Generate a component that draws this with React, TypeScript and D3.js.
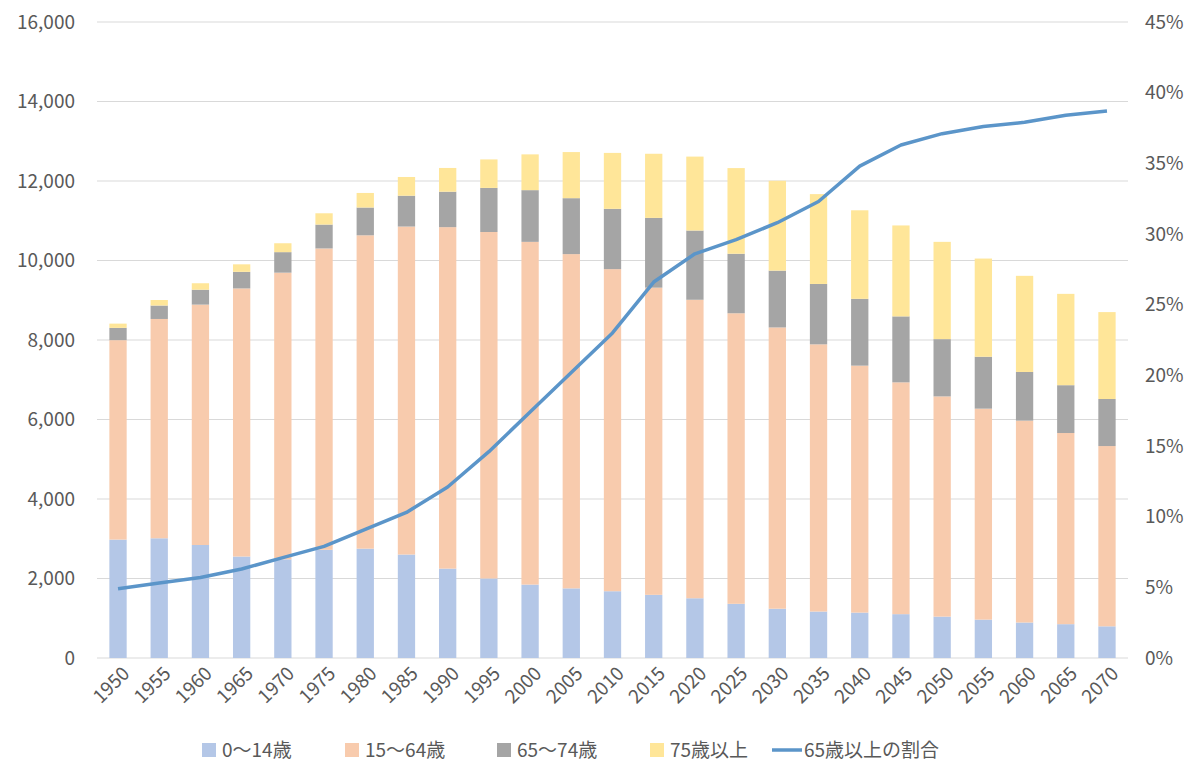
import * as d3 from "d3";

const years = ["1950","1955","1960","1965","1970","1975","1980","1985","1990","1995","2000","2005","2010","2015","2020","2025","2030","2035","2040","2045","2050","2055","2060","2065","2070"];
const age0to14 = [2979,3012,2843,2553,2482,2722,2751,2603,2249,2001,1847,1752,1680,1589,1503,1363,1240,1169,1142,1103,1041,966,893,851,797];
const age15to64 = [5017,5517,6047,6744,7212,7581,7883,8251,8590,8716,8622,8409,8103,7728,7509,7310,7076,6722,6213,5832,5540,5307,5078,4809,4535];
const age65to74 = [309,338,375,418,516,601,699,776,892,1109,1301,1407,1517,1755,1742,1497,1429,1519,1681,1659,1441,1306,1225,1203,1184];
const age75plus = [107,139,163,189,224,284,366,471,597,717,900,1160,1407,1613,1860,2155,2261,2260,2227,2288,2447,2470,2418,2298,2186];
const ratio65 = [4.9,5.3,5.7,6.3,7.1,7.9,9.1,10.3,12.1,14.6,17.4,20.2,23.0,26.6,28.6,29.6,30.8,32.3,34.8,36.3,37.1,37.6,37.9,38.4,38.7];

const seriesNames = ["0～14歳","15～64歳","65～74歳","75歳以上"];
const seriesColors = ["#b4c7e7","#f8cbad","#a5a5a5","#ffe699"];
const lineName = "65歳以上の割合";
const lineColor = "#5b95c9";

const leftTicks = [0,2000,4000,6000,8000,10000,12000,14000,16000];
const rightTicks = [0,5,10,15,20,25,30,35,40,45];

export default function App() {
  const W = 1200, H = 783;
  const m = { left: 97, right: 1128, top: 22, bottom: 658 };
  const font = "'Noto Sans CJK JP', 'Noto Sans', sans-serif";

  const x = d3.scaleBand().domain(years).range([m.left, m.right]).paddingInner(0.58).paddingOuter(0.3);
  const y = d3.scaleLinear().domain([0, 16000]).range([m.bottom, m.top]);
  const yr = d3.scaleLinear().domain([0, 45]).range([m.bottom, m.top]);

  const rows = years.map((yr_, i) => ({ year: yr_, s0: age0to14[i], s1: age15to64[i], s2: age65to74[i], s3: age75plus[i] }));
  const stacked = d3.stack<any>().keys(["s0","s1","s2","s3"])(rows);
  const line = d3.line<number>().x((_, i) => x(years[i])! + x.bandwidth() / 2).y(d => yr(d));

  const fmt = d3.format(",");
  const legend = [...seriesNames.map((n, i) => ({ n, c: seriesColors[i], line: false })), { n: lineName, c: lineColor, line: true }];
  const legendX = [202, 345, 497, 650, 772];

  return (
    <svg width={W} height={H} style={{ position: "absolute", left: 0, top: 0, background: "#fff" }} fontFamily={font}>
      {leftTicks.map(t => (
        <g key={t}>
          <line x1={m.left} x2={m.right} y1={y(t)} y2={y(t)} stroke="#d9d9d9" strokeWidth={1} />
          <text x={75} y={y(t)} dy="0.35em" textAnchor="end" fontSize={19} fill="#595959">{fmt(t)}</text>
        </g>
      ))}
      {rightTicks.map(t => (
        <text key={t} x={1145} y={yr(t)} dy="0.35em" fontSize={19} fill="#595959">{t}%</text>
      ))}
      {stacked.map((s, si) => (
        <g key={si} fill={seriesColors[si]}>
          {s.map((d, i) => (
            <rect key={i} x={x(years[i])} width={x.bandwidth()} y={y(d[1])} height={y(d[0]) - y(d[1])} />
          ))}
        </g>
      ))}
      <path d={line(ratio65)!} fill="none" stroke={lineColor} strokeWidth={3.5} strokeLinejoin="round" />
      {years.map(yv => {
        const cx = x(yv)! + x.bandwidth() / 2;
        return (
          <text key={yv} transform={`translate(${cx + 8},${m.bottom + 12}) rotate(-45)`} textAnchor="end" dy="0.35em" fontSize={19} fill="#595959">{yv}</text>
        );
      })}
      {legend.map((l, i) => (
        <g key={l.n} transform={`translate(${legendX[i]},750)`}>
          {l.line
            ? <line x1={0} x2={30} y1={0} y2={0} stroke={l.c} strokeWidth={3.5} />
            : <rect x={0} y={-7} width={14} height={14} fill={l.c} />}
          <text x={l.line ? 32 : 20} y={0} dy="0.35em" fontSize={19} fill="#595959">{l.n}</text>
        </g>
      ))}
    </svg>
  );
}
